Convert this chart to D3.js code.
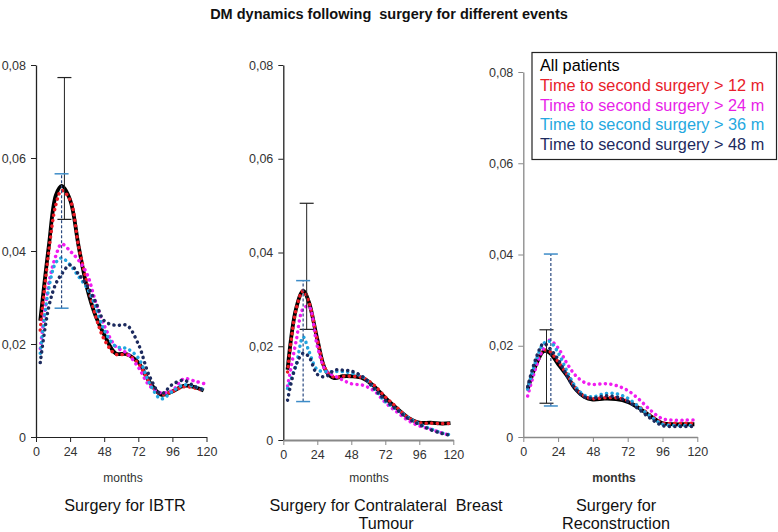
<!DOCTYPE html>
<html>
<head>
<meta charset="utf-8">
<script src="https://cdn.jsdelivr.net/npm/d3@7"></script>
<style>
  html, body { margin: 0; padding: 0; background: #fff; }
  svg { display: block; font-family: "Liberation Sans", Arial, sans-serif; }
  text { white-space: pre; }
</style>
</head>
<body>
<svg id="chart" width="778" height="532"></svg>
<script>
// ---------------- DATA ----------------
const months = [3, 9, 14, 18, 24, 30, 36, 42, 48, 56, 64, 72, 80, 88, 96, 104, 112, 118];
const xTicks = [0, 24, 48, 72, 96, 120];
const yTicks = [0, 0.02, 0.04, 0.06, 0.08];
const seriesNames = ["All patients", "Time to second surgery > 12 m", "Time to second surgery > 24 m",
                     "Time to second surgery > 36 m", "Time to second surgery > 48 m"];
const panelTitles = [["Surgery for IBTR"], ["Surgery for Contralateral  Breast", "Tumour"], ["Surgery for", "Reconstruction"]];

// Panel 1: Surgery for IBTR
const ibtrAll = [0.025, 0.041, 0.052, 0.054, 0.051, 0.041, 0.032, 0.026, 0.022, 0.018, 0.0178, 0.016, 0.0118, 0.0091, 0.0098, 0.011, 0.0107, 0.0100];
const ibtr12  = [0.023, 0.040, 0.050, 0.053, 0.051, 0.041, 0.033, 0.026, 0.021, 0.0178, 0.0177, 0.0158, 0.0118, 0.0092, 0.0098, 0.0108, 0.0105, 0.0100];
const ibtr24  = [0.019, 0.033, 0.039, 0.0415, 0.040, 0.038, 0.035, 0.029, 0.024, 0.0195, 0.018, 0.015, 0.011, 0.0095, 0.010, 0.0125, 0.012, 0.0115];
const ibtr36  = [0.018, 0.032, 0.0375, 0.0385, 0.037, 0.0345, 0.032, 0.028, 0.023, 0.0195, 0.019, 0.017, 0.0115, 0.0082, 0.0098, 0.0112, 0.0108, 0.0102];
const ibtr48  = [0.016, 0.028, 0.033, 0.035, 0.037, 0.035, 0.0325, 0.029, 0.025, 0.024, 0.024, 0.020, 0.013, 0.0093, 0.0113, 0.0122, 0.0108, 0.0101];

// Panel 2: Surgery for Contralateral Breast Tumour
const cbtAll = [0.015, 0.028, 0.0318, 0.0295, 0.0215, 0.0148, 0.0132, 0.0136, 0.0136, 0.0132, 0.0115, 0.009, 0.0068, 0.0048, 0.0037, 0.0037, 0.0035, 0.0036];
const cbt12  = [0.0145, 0.0278, 0.0318, 0.0295, 0.0215, 0.015, 0.0134, 0.0136, 0.0136, 0.0133, 0.0117, 0.0092, 0.007, 0.0048, 0.0037, 0.0036, 0.0035, 0.0035];
const cbt24  = [0.0115, 0.021, 0.028, 0.0285, 0.020, 0.0148, 0.0137, 0.0128, 0.012, 0.0117, 0.0105, 0.008, 0.006, 0.0042, 0.003, 0.0023, 0.0015, 0.001];
const cbt36  = [0.011, 0.016, 0.022, 0.019, 0.015, 0.0146, 0.0146, 0.0146, 0.0143, 0.0135, 0.011, 0.0082, 0.0065, 0.0048, 0.0034, 0.0024, 0.0015, 0.0011];
const cbt48  = [0.0085, 0.016, 0.0185, 0.0178, 0.014, 0.0135, 0.0149, 0.0149, 0.0147, 0.0135, 0.011, 0.0085, 0.0065, 0.0046, 0.0033, 0.0022, 0.0014, 0.001];

// Panel 3: Surgery for Reconstruction
const recAll = [0.0105, 0.016, 0.0188, 0.0185, 0.016, 0.0135, 0.0105, 0.0088, 0.0082, 0.0084, 0.0083, 0.0077, 0.0063, 0.0045, 0.003, 0.0028, 0.0028, 0.0028];
const rec12  = [0.0105, 0.0162, 0.019, 0.0188, 0.0165, 0.0138, 0.0108, 0.009, 0.0084, 0.0086, 0.0086, 0.008, 0.0066, 0.0047, 0.0031, 0.003, 0.003, 0.003];
const rec24  = [0.009, 0.0155, 0.0195, 0.0212, 0.0195, 0.0162, 0.0135, 0.012, 0.0115, 0.0117, 0.0113, 0.0102, 0.0082, 0.0058, 0.004, 0.0037, 0.0037, 0.0037];
const rec36  = [0.0105, 0.017, 0.0205, 0.021, 0.0185, 0.0145, 0.011, 0.0092, 0.0088, 0.0095, 0.0095, 0.0085, 0.0065, 0.0045, 0.0028, 0.0025, 0.0025, 0.0025];
const rec48  = [0.011, 0.0175, 0.0205, 0.0195, 0.017, 0.0135, 0.0105, 0.0088, 0.0085, 0.009, 0.0088, 0.0078, 0.006, 0.004, 0.0025, 0.0023, 0.0023, 0.0023];

// Error bars (one per panel): all patients (solid) and subgroup (dashed)
const allBarMonth = [20, 16.5, 16];
const allBarLow   = [0.0468, 0.0236, 0.0074];
const allBarHigh  = [0.0773, 0.0505, 0.0235];
const subBarMonth = [18, 14, 19];
const subBarLow   = [0.0277, 0.0082, 0.0068];
const subBarHigh  = [0.0566, 0.034, 0.0401];

// ---------------- STYLE / LAYOUT ----------------
const colors = ["#000000", "#ee1c25", "#f01cf0", "#22a6e0", "#1c2a5e"];
const legendColors = ["#000000", "#e8202a", "#e81ee8", "#25a8e0", "#1c2a5e"];

const panelData = [
  [ibtrAll, ibtr12, ibtr24, ibtr36, ibtr48],
  [cbtAll, cbt12, cbt24, cbt36, cbt48],
  [recAll, rec12, rec24, rec36, rec48]
];
const layout = [
  { x0: 36,    x1: 206.5, yTop: 65, yBot: 437, axisCol: "#222", xAxisCol: "#222", xAxisW: 1.2, titleX: 125, monthsX: 123, bold: false },
  { x0: 283.3, x1: 453.3, yTop: 65, yBot: 440, axisCol: "#222", xAxisCol: "#888", xAxisW: 2,   titleX: 386, monthsX: 369, bold: false },
  { x0: 523.3, x1: 697.3, yTop: 72, yBot: 437, axisCol: "#888", xAxisCol: "#888", xAxisW: 1.5, titleX: 616, monthsX: 614, bold: true }
];

const svg = d3.select("#chart");

svg.append("text")
  .attr("x", 389).attr("y", 19)
  .attr("text-anchor", "middle")
  .style("font-size", "14.5px").style("font-weight", "bold").style("fill", "#111")
  .text("DM dynamics following  surgery for different events");

const fmt = d => d === 0 ? "0" : d3.format(".2f")(d).replace(".", ",");

layout.forEach((L, pi) => {
  const x = d3.scaleLinear().domain([0, 120]).range([L.x0, L.x1]);
  const y = d3.scaleLinear().domain([0, 0.08]).range([L.yBot, L.yTop]);
  const g = svg.append("g");

  // Y axis
  const ya = g.append("g").attr("transform", `translate(${L.x0},0)`)
    .call(d3.axisLeft(y).tickValues(yTicks).tickFormat(fmt).tickSize(5).tickPadding(5).tickSizeOuter(0));
  ya.select(".domain").attr("stroke", L.axisCol).attr("stroke-width", 1.3);
  ya.selectAll(".tick line").attr("stroke", L.axisCol);
  ya.selectAll(".tick text").style("font-size", "12.5px").style("fill", "#333")
    .style("font-family", "'Liberation Sans', Arial, sans-serif");

  // X axis
  const xa = g.append("g").attr("transform", `translate(0,${L.yBot})`)
    .call(d3.axisBottom(x).tickValues(xTicks).tickSize(5).tickPadding(5).tickSizeOuter(0));
  xa.select(".domain").attr("stroke", L.xAxisCol).attr("stroke-width", L.xAxisW);
  xa.selectAll(".tick line").attr("stroke", L.xAxisCol);
  xa.selectAll(".tick text").style("font-size", "12.5px").style("fill", "#333")
    .style("font-family", "'Liberation Sans', Arial, sans-serif");

  // months label
  g.append("text").attr("x", L.monthsX).attr("y", 482).attr("text-anchor", "middle")
    .style("font-size", "12px").style("fill", "#333").style("font-weight", L.bold ? "bold" : "normal")
    .text("months");

  // panel title
  panelTitles[pi].forEach((t, li) => {
    g.append("text").attr("x", L.titleX).attr("y", 511 + li * 17.5).attr("text-anchor", "middle")
      .style("font-size", "16.2px").style("fill", "#111").text(t);
  });

  const line = d3.line()
    .x((d, i) => x(months[i]))
    .y(d => y(d))
    .curve(d3.curveCatmullRom.alpha(0.5));

  // Series: black solid first, then dotted on top
  panelData[pi].forEach((vals, si) => {
    const p = g.append("path").datum(vals).attr("d", line)
      .attr("fill", "none").attr("stroke", colors[si]);
    if (si === 0) {
      p.attr("stroke-width", 3.8).attr("stroke-linejoin", "round");
    } else {
      p.attr("stroke-width", 3.5).attr("stroke-linecap", "round")
       .attr("stroke-dasharray", "0.1 5.4");
    }
  });

  // Error bar: all patients (solid black)
  const bx = x(allBarMonth[pi]);
  g.append("line").attr("x1", bx).attr("x2", bx)
    .attr("y1", y(allBarLow[pi])).attr("y2", y(allBarHigh[pi]))
    .attr("stroke", "#222").attr("stroke-width", 1);
  [allBarLow[pi], allBarHigh[pi]].forEach(v => {
    g.append("line").attr("x1", bx - 7).attr("x2", bx + 7)
      .attr("y1", y(v)).attr("y2", y(v)).attr("stroke", "#222").attr("stroke-width", 1.2);
  });

  // Error bar: subgroup (dashed)
  const sx = x(subBarMonth[pi]);
  g.append("line").attr("x1", sx).attr("x2", sx)
    .attr("y1", y(subBarLow[pi])).attr("y2", y(subBarHigh[pi]))
    .attr("stroke", "#2b4a80").attr("stroke-width", 1.2).attr("stroke-dasharray", "3 2");
  [subBarLow[pi], subBarHigh[pi]].forEach(v => {
    g.append("line").attr("x1", sx - 7).attr("x2", sx + 7)
      .attr("y1", y(v)).attr("y2", y(v)).attr("stroke", "#3d8cc8").attr("stroke-width", 1.5);
  });
});

// Legend
const lg = svg.append("g");
lg.append("rect").attr("x", 532).attr("y", 52.5).attr("width", 244.5).attr("height", 107)
  .attr("fill", "#fff").attr("stroke", "#222").attr("stroke-width", 1.2);
seriesNames.forEach((n, i) => {
  lg.append("text").attr("x", 540).attr("y", 71 + i * 19.8)
    .style("font-size", "16.3px").style("fill", legendColors[i]).text(n);
});
</script>
</body>
</html>
